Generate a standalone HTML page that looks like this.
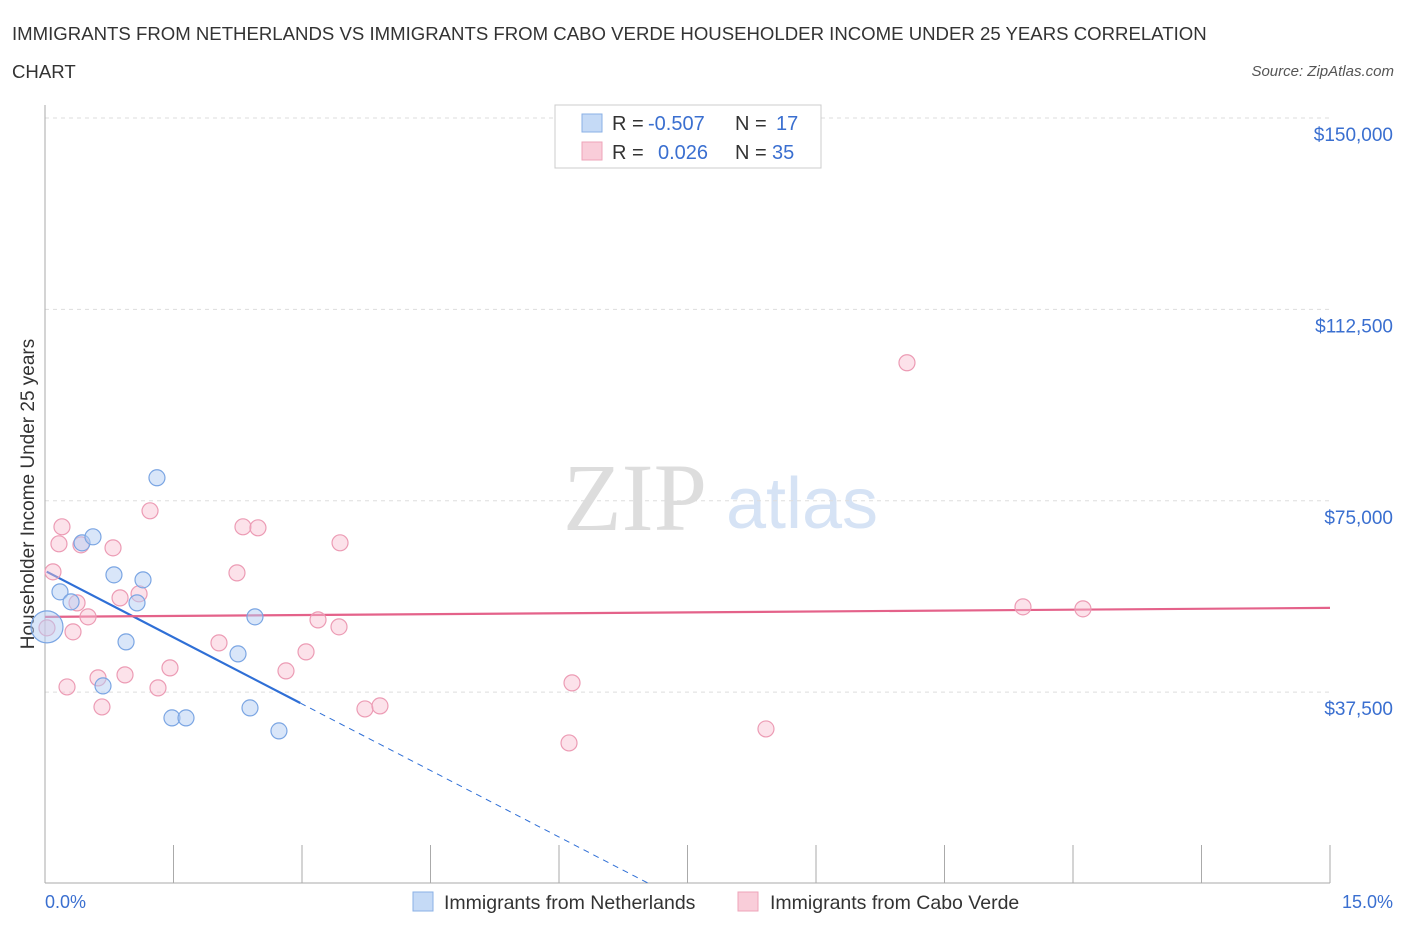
<!DOCTYPE html>
<html><head><meta charset="utf-8"><style>
body{margin:0;background:#fff;font-family:"Liberation Sans",sans-serif}
</style></head><body>
<svg id="c" width="1406" height="930" xmlns="http://www.w3.org/2000/svg">
<text x="12" y="40" font-size="18.6" fill="#333">IMMIGRANTS FROM NETHERLANDS VS IMMIGRANTS FROM CABO VERDE HOUSEHOLDER INCOME UNDER 25 YEARS CORRELATION</text>
<text x="12" y="78" font-size="18.6" fill="#333">CHART</text>
<text x="1394" y="76" font-size="15" fill="#555" font-style="italic" text-anchor="end">Source: ZipAtlas.com</text>
<text x="635" y="530" font-size="96" fill="#ddd" font-family="Liberation Serif" text-anchor="middle">ZIP</text>
<text x="802" y="528" font-size="72" fill="#d6e3f5" text-anchor="middle">atlas</text>
<g id="grid"></g>
<line x1="45" y1="105" x2="45" y2="883" stroke="#aaa"/>
<line x1="45" y1="883" x2="1330" y2="883" stroke="#aaa"/>
<g id="ticks"></g>
<text transform="translate(34,494) rotate(-90)" font-size="19" fill="#333" text-anchor="middle">Householder Income Under 25 years</text>
<text x="45" y="908" font-size="18" fill="#3a6fd0">0.0%</text>
<text x="1393" y="908" font-size="18" fill="#3a6fd0" text-anchor="end">15.0%</text>
<g id="lines"></g>
<g id="pts"></g>
<g>
<rect x="555" y="105" width="266" height="63" fill="#fff" stroke="#ccc"/>
<rect x="582" y="114" width="20" height="18" fill="#c5daf6" stroke="#8ab0e6"/>
<rect x="582" y="142" width="20" height="18" fill="#f9cdd9" stroke="#eea4b9"/>
<text x="612" y="130" font-size="20" fill="#333">R =</text>
<text x="648" y="130" font-size="20" fill="#3a6fd0">-0.507</text>
<text x="735" y="130" font-size="20" fill="#333">N =</text>
<text x="776" y="130" font-size="20" fill="#3a6fd0">17</text>
<text x="612" y="159" font-size="20" fill="#333">R =</text>
<text x="658" y="159" font-size="20" fill="#3a6fd0">0.026</text>
<text x="735" y="159" font-size="20" fill="#333">N =</text>
<text x="772" y="159" font-size="20" fill="#3a6fd0">35</text>
</g>
<g><rect x="413" y="892" width="20" height="19" fill="#c5daf6" stroke="#8ab0e6"/><text x="444" y="909" font-size="19.5" fill="#333">Immigrants from Netherlands</text></g>
<g><rect x="738" y="892" width="20" height="19" fill="#f9cdd9" stroke="#eea4b9"/><text x="770" y="909" font-size="19.5" fill="#333">Immigrants from Cabo Verde</text></g>
</svg>
<script>
const yTicks=[37500,75000,112500,150000];
const yTickLabels=["$37,500","$75,000","$112,500","$150,000"];
const blueX=[0.023,0.175,0.304,0.432,0.56,0.677,0.805,0.946,1.074,1.144,1.307,1.482,1.646,2.253,2.393,2.451,2.731];
const blueY=[50290,57150,55190,66750,67930,38720,60480,47350,54990,59500,79500,32450,32450,44990,34410,52250,29900];
const pinkX=[0.023,0.093,0.163,0.198,0.257,0.327,0.374,0.42,0.502,0.619,0.665,0.794,0.876,0.934,1.098,1.226,1.319,1.459,2.031,2.241,2.311,2.486,2.813,3.047,3.187,3.432,3.444,3.735,3.91,6.117,6.152,8.416,10.062,11.416,12.116];
const pinkY=[50090,61070,66560,69890,38520,49310,54990,66360,52250,40290,34600,65770,55970,40880,56760,73030,38330,42250,47150,60870,69890,69700,41660,45390,51660,50290,66760,34210,34800,27540,39310,30290,102040,54210,53820];
const blueTrend=[61270,-8693];
const pinkTrend=[52250,117];
const X=v=>45+v/15*1285, Y=v=>883.5-v/150000*765.5;
const NS="http://www.w3.org/2000/svg";
function mk(t,a,p){const e=document.createElementNS(NS,t);for(const k in a)e.setAttribute(k,a[k]);document.getElementById(p).appendChild(e);return e;}
yTicks.forEach((v,i)=>{
 const l=mk('line',{x1:45,x2:1330,y1:Y(v),y2:Y(v),stroke:'#ddd','stroke-dasharray':'4,4'},'grid');
 
 
 const t=mk('text',{x:1393,y:Y(v)+23,'font-size':19,fill:'#3a6fd0','text-anchor':'end'},'grid');
 t.textContent=yTickLabels[i];
 
 
});
for(let i=0;i<=10;i++){
 const t=mk('line',{x1:X(i*1.5),x2:X(i*1.5),y1:845,y2:883,stroke:'#aaa'},'ticks');
 
 
}
const bEnd=-blueTrend[0]/blueTrend[1];
let l1=mk('line',{x1:X(0.02),y1:Y(blueTrend[0]+blueTrend[1]*0.02),x2:X(2.98),y2:Y(blueTrend[0]+blueTrend[1]*2.98),stroke:'#2f6fd6','stroke-width':2.2},'lines');


let l2=mk('line',{x1:X(2.98),y1:Y(blueTrend[0]+blueTrend[1]*2.98),x2:X(bEnd),y2:Y(0),stroke:'#2f6fd6','stroke-width':1,'stroke-dasharray':'6,5'},'lines');


let l3=mk('line',{x1:X(0),y1:Y(pinkTrend[0]),x2:X(15),y2:Y(pinkTrend[0]+pinkTrend[1]*15),stroke:'#e4628a','stroke-width':2.2},'lines');


pinkX.forEach((x,i)=>{
 const c=mk('circle',{cx:X(x),cy:Y(pinkY[i]),r:8,fill:'rgba(249,190,208,0.45)',stroke:'#ec9bb4','stroke-width':1.2},'pts');
 
 
});
blueX.forEach((x,i)=>{
 const c=mk('circle',{cx:X(x),cy:Y(blueY[i]),r:i==0?16:8,fill:'rgba(180,205,243,0.5)',stroke:'#7aa5e3','stroke-width':1.2},'pts');
 
 
});
</script>
</body></html>
